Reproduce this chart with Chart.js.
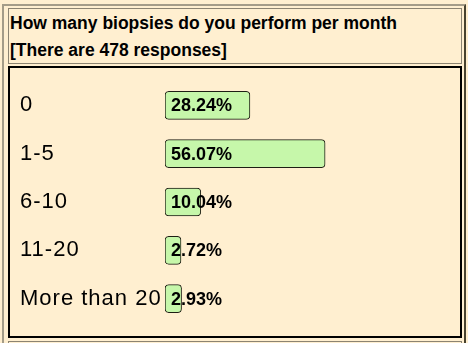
<!DOCTYPE html>
<html>
<head>
<meta charset="utf-8">
<script src="https://cdn.jsdelivr.net/npm/chart.js@4/dist/chart.umd.min.js"></script>
<style>
    body {
        margin: 0;
        background: #ffefd0;
        font-family: Arial, "Liberation Sans", sans-serif;
        overflow: hidden;
    }
    .frame {
        position: absolute;
        left: 2px;
        top: 4px;
        width: 460px;
        height: 360px;
        border: 2px solid;
        border-color: #a49c88 #48422f #48422f #a49c88;
    }
    .question {
        position: absolute;
        left: 8px;
        top: 8px;
        box-sizing: border-box;
        width: 454px;
        height: 56px;
        border: 1px solid #8c8472;
        padding: 1px 0 0 1px;
        font-size: 17.5px;
        font-weight: bold;
        line-height: 27px;
        color: #000;
    }
    .results {
        position: absolute;
        left: 8px;
        top: 66px;
        width: 450px;
        height: 268px;
        border: 2px solid #000;
    }
    .next {
        position: absolute;
        left: 8px;
        top: 341px;
        width: 452px;
        height: 20px;
        border: 1px solid #8c8472;
    }
    canvas {
        display: block;
    }
</style>
</head>
<body>
<div class="frame"></div>
<div class="question">How many biopsies do you perform per month<br>[There are 478 responses]</div>
<div class="results"><canvas id="biopsyChart" width="450" height="268"></canvas></div>
<div class="next"></div>

<script>
const answers = ['0', '1-5', '6-10', '11-20', 'More than 20'];
const shares = [28.24, 56.07, 10.04, 2.72, 2.93];

// bars carry a little padding on the left, so they start below zero
const barStart = -3.2;

// answer labels are set a bit wider than plain Arial
const wideTicks = {
    id: 'wideTicks',
    beforeDraw(chart) {
        chart.ctx.letterSpacing = '1px';
    },
    beforeDatasetsDraw(chart) {
        chart.ctx.letterSpacing = '0px';
    }
};

const percentLabels = {
    id: 'percentLabels',
    afterDatasetsDraw(chart) {
        const ctx = chart.ctx;
        const meta = chart.getDatasetMeta(0);
        ctx.save();
        ctx.font = 'bold 18px Arial, "Liberation Sans", sans-serif';
        ctx.fillStyle = '#000';
        ctx.textAlign = 'left';
        ctx.textBaseline = 'middle';
        meta.data.forEach(function(bar, i) {
            ctx.fillText(shares[i].toFixed(2) + '%', bar.base + 6, bar.y + 1);
        });
        ctx.restore();
    }
};

function renderBiopsyChart() {
    const ctx = document.getElementById('biopsyChart');

    new Chart(ctx, {
        type: 'bar',
        data: {
            labels: answers,
            datasets: [{
                data: shares,
                base: barStart,
                backgroundColor: '#c6f7aa',
                borderColor: '#1e1e14',
                borderWidth: 1,
                borderSkipped: false,
                borderRadius: 4,
                barThickness: 28
            }]
        },
        options: {
            indexAxis: 'y',
            responsive: false,
            animation: false,
            devicePixelRatio: 1,
            layout: {
                padding: { left: 10, top: 10, bottom: 8, right: 10 }
            },
            plugins: {
                legend: { display: false },
                tooltip: { enabled: false }
            },
            scales: {
                x: {
                    display: false,
                    min: barStart,
                    max: 102.3
                },
                y: {
                    grid: { display: false },
                    border: { display: false },
                    afterFit: function(axis) {
                        axis.width = 145;
                    },
                    ticks: {
                        crossAlign: 'far',
                        padding: 0,
                        color: '#000',
                        font: {
                            family: 'Arial, "Liberation Sans", sans-serif',
                            size: 22
                        }
                    }
                }
            }
        },
        plugins: [wideTicks, percentLabels]
    });
}

renderBiopsyChart();
</script>
</body>
</html>
